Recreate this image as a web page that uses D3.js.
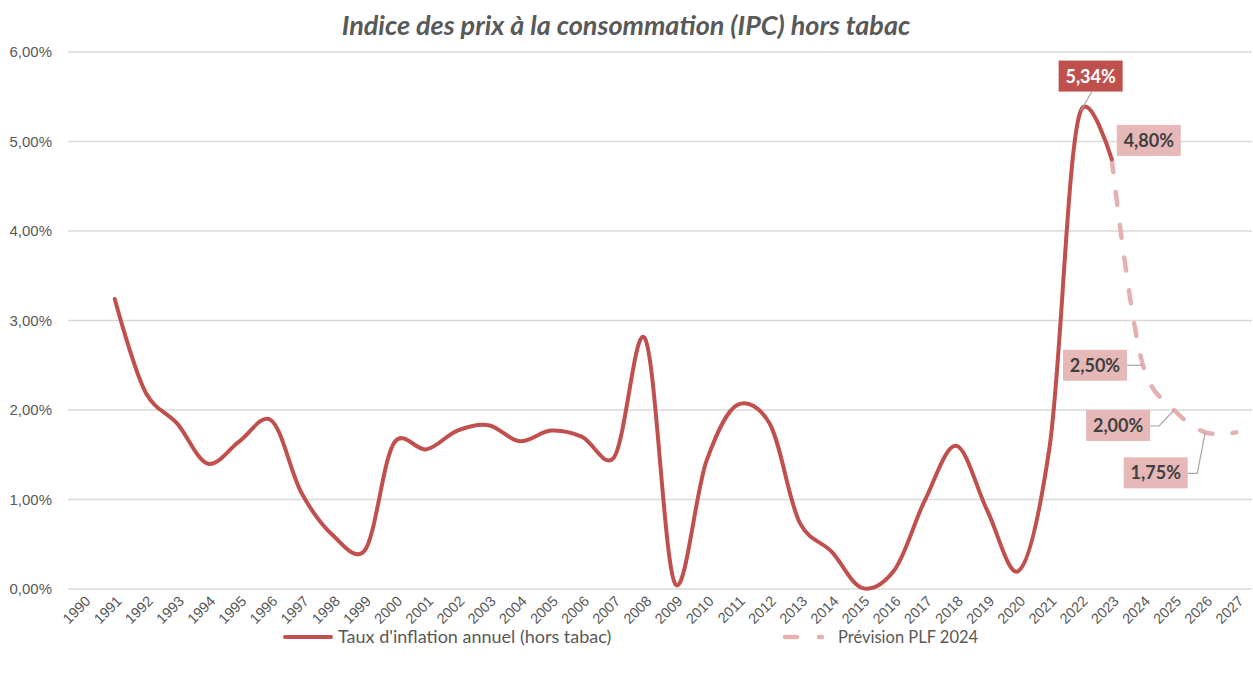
<!DOCTYPE html>
<html>
<head>
<meta charset="utf-8">
<script src="https://cdn.jsdelivr.net/npm/d3@7"></script>
<style>
  body { margin: 0; background: #fff; }
  svg { display: block; font-family: Lato, "Noto Sans", sans-serif; }
</style>
</head>
<body>
<svg id="chart" width="1253" height="673"></svg>
<script>
// categories (years)
const years = ['1990', '1991', '1992', '1993', '1994', '1995', '1996', '1997', '1998', '1999',
  '2000', '2001', '2002', '2003', '2004', '2005', '2006', '2007', '2008', '2009',
  '2010', '2011', '2012', '2013', '2014', '2015', '2016', '2017', '2018', '2019',
  '2020', '2021', '2022', '2023', '2024', '2025', '2026', '2027'];

// Taux d'inflation annuel (hors tabac), en %
const inflation = [null, 3.24, 2.19, 1.85, 1.40, 1.65, 1.89, 1.07, 0.60, 0.42,
  1.65, 1.56, 1.77, 1.83, 1.65, 1.77, 1.70, 1.46, 2.81, 0.05,
  1.44, 2.06, 1.86, 0.73, 0.42, 0.01, 0.20, 0.99, 1.60, 0.88,
  0.20, 1.58, 5.34, 4.80, null, null, null, null];

// Prévision PLF 2024, en %
const forecast = [null, null, null, null, null, null, null, null, null, null,
  null, null, null, null, null, null, null, null, null, null,
  null, null, null, null, null, null, null, null, null, null,
  null, null, null, 4.80, 2.50, 2.00, 1.75, 1.75];

const yTicks = [0, 1, 2, 3, 4, 5, 6];

// labelled points: box centre offset from the point, leader polyline from box to point
const labels = [
  { year: '2022', value: 5.34, dx: 10, dy: -35, dark: true, leader: [[11, -19]] },
  { year: '2023', value: 4.80, dx: 37, dy: -19, dark: false, leader: null },
  { year: '2024', value: 2.50, dx: -48, dy: 0, dark: false, leader: [[-16, 0], [-3, 0]] },
  { year: '2025', value: 2.00, dx: -56, dy: 15.5, dark: false, leader: [[-24, 16], [-15, 16]] },
  { year: '2026', value: 1.75, dx: -49.5, dy: 40.5, dark: false, leader: [[-18, 41], [-8, 41]] }
];

const red = '#c0504d';
const pink = '#e6b0b0';
const boxPink = '#e6b9b8';
const textGrey = '#595959';

const svg = d3.select('#chart');
const margin = { top: 52, right: 1, bottom: 84, left: 68 };
const width = 1253 - margin.left - margin.right;
const height = 673 - margin.top - margin.bottom;

const x = d3.scaleBand().domain(years).range([margin.left, margin.left + width]).padding(0);
const y = d3.scaleLinear().domain([0, 6]).range([margin.top + height, margin.top]);
const cx = d => x(d) + x.bandwidth() / 2;
const fmt = v => d3.format('.2f')(v).replace('.', ',') + '%';

// title
svg.append('text')
  .attr('x', 626).attr('y', 35)
  .attr('text-anchor', 'middle')
  .style('font-size', '27px').style('font-weight', 'bold').style('font-style', 'italic')
  .style('fill', textGrey)
  .text('Indice des prix à la consommation (IPC) hors tabac');

// gridlines
svg.append('g')
  .selectAll('line')
  .data(yTicks)
  .join('line')
  .attr('x1', margin.left).attr('x2', margin.left + width)
  .attr('y1', d => y(d)).attr('y2', d => y(d))
  .attr('stroke', '#d9d9d9').attr('stroke-width', 1.3);

// y axis labels
const yAxis = svg.append('g')
  .attr('transform', `translate(${margin.left - 16},0)`)
  .call(d3.axisLeft(y).tickValues(yTicks).tickSize(0).tickPadding(0).tickFormat(fmt));
yAxis.select('.domain').remove();
yAxis.selectAll('text').style('font-size', '15px').style('fill', textGrey).attr('font-family', null);

// x axis labels
const xAxis = svg.append('g')
  .attr('transform', `translate(0,${margin.top + height})`)
  .call(d3.axisBottom(x).tickSize(0).tickPadding(0));
xAxis.select('.domain').remove();
xAxis.selectAll('text')
  .attr('font-family', null)
  .style('font-size', '14.5px').style('fill', textGrey)
  .attr('text-anchor', 'end')
  .attr('dy', null).attr('y', 0)
  .attr('transform', 'translate(8,13) rotate(-45)');

// lines
const line = d3.line()
  .defined(d => d.v != null)
  .x(d => cx(d.year))
  .y(d => y(d.v))
  .curve(d3.curveCatmullRom.alpha(0.2));

const mainData = years.map((yr, i) => ({ year: yr, v: inflation[i] })).filter(d => d.v != null);
const fcData = years.map((yr, i) => ({ year: yr, v: forecast[i] })).filter(d => d.v != null);

svg.append('path')
  .datum(fcData)
  .attr('d', line)
  .attr('fill', 'none')
  .attr('stroke', pink).attr('stroke-width', 4.5)
  .attr('stroke-linecap', 'round')
  .attr('stroke-dasharray', '13,20');

svg.append('path')
  .datum(mainData)
  .attr('d', line)
  .attr('fill', 'none')
  .attr('stroke', red).attr('stroke-width', 4)
  .attr('stroke-linecap', 'round').attr('stroke-linejoin', 'round');

// data labels
const boxW = 64, boxH = 31;
labels.forEach(l => {
  const px = cx(l.year), py = y(l.value);
  const bx = px + l.dx - boxW / 2, by = py + l.dy - boxH / 2;
  if (l.leader) {
    const pts = l.leader.map(p => [px + p[0], py + p[1]]).concat([[px, py]]);
    svg.append('path')
      .attr('d', d3.line()(pts))
      .attr('fill', 'none').attr('stroke', '#a6a6a6').attr('stroke-width', 1.2);
  }
  svg.append('rect')
    .attr('x', bx).attr('y', by).attr('width', boxW).attr('height', boxH)
    .attr('fill', l.dark ? red : boxPink);
  svg.append('text')
    .attr('x', bx + boxW / 2).attr('y', by + boxH / 2 + 6.5)
    .attr('text-anchor', 'middle')
    .style('font-size', '18px').style('font-weight', 'bold')
    .style('fill', l.dark ? '#ffffff' : '#404040')
    .text(fmt(l.value));
});

// legend
const legend = svg.append('g').attr('transform', 'translate(0,637)');
legend.append('line')
  .attr('x1', 285).attr('x2', 331).attr('y1', 0).attr('y2', 0)
  .attr('stroke', red).attr('stroke-width', 4).attr('stroke-linecap', 'round');
legend.append('text')
  .attr('x', 338).attr('y', 6)
  .style('font-size', '18px').style('fill', textGrey)
  .text("Taux d'inflation annuel (hors tabac)");
legend.append('line')
  .attr('x1', 785).attr('x2', 822).attr('y1', 0).attr('y2', 0)
  .attr('stroke', pink).attr('stroke-width', 4.5).attr('stroke-linecap', 'round')
  .attr('stroke-dasharray', '12,22');
legend.append('text')
  .attr('x', 838).attr('y', 6)
  .style('font-size', '16.5px').style('fill', textGrey)
  .text('Prévision PLF 2024');
</script>
</body>
</html>
